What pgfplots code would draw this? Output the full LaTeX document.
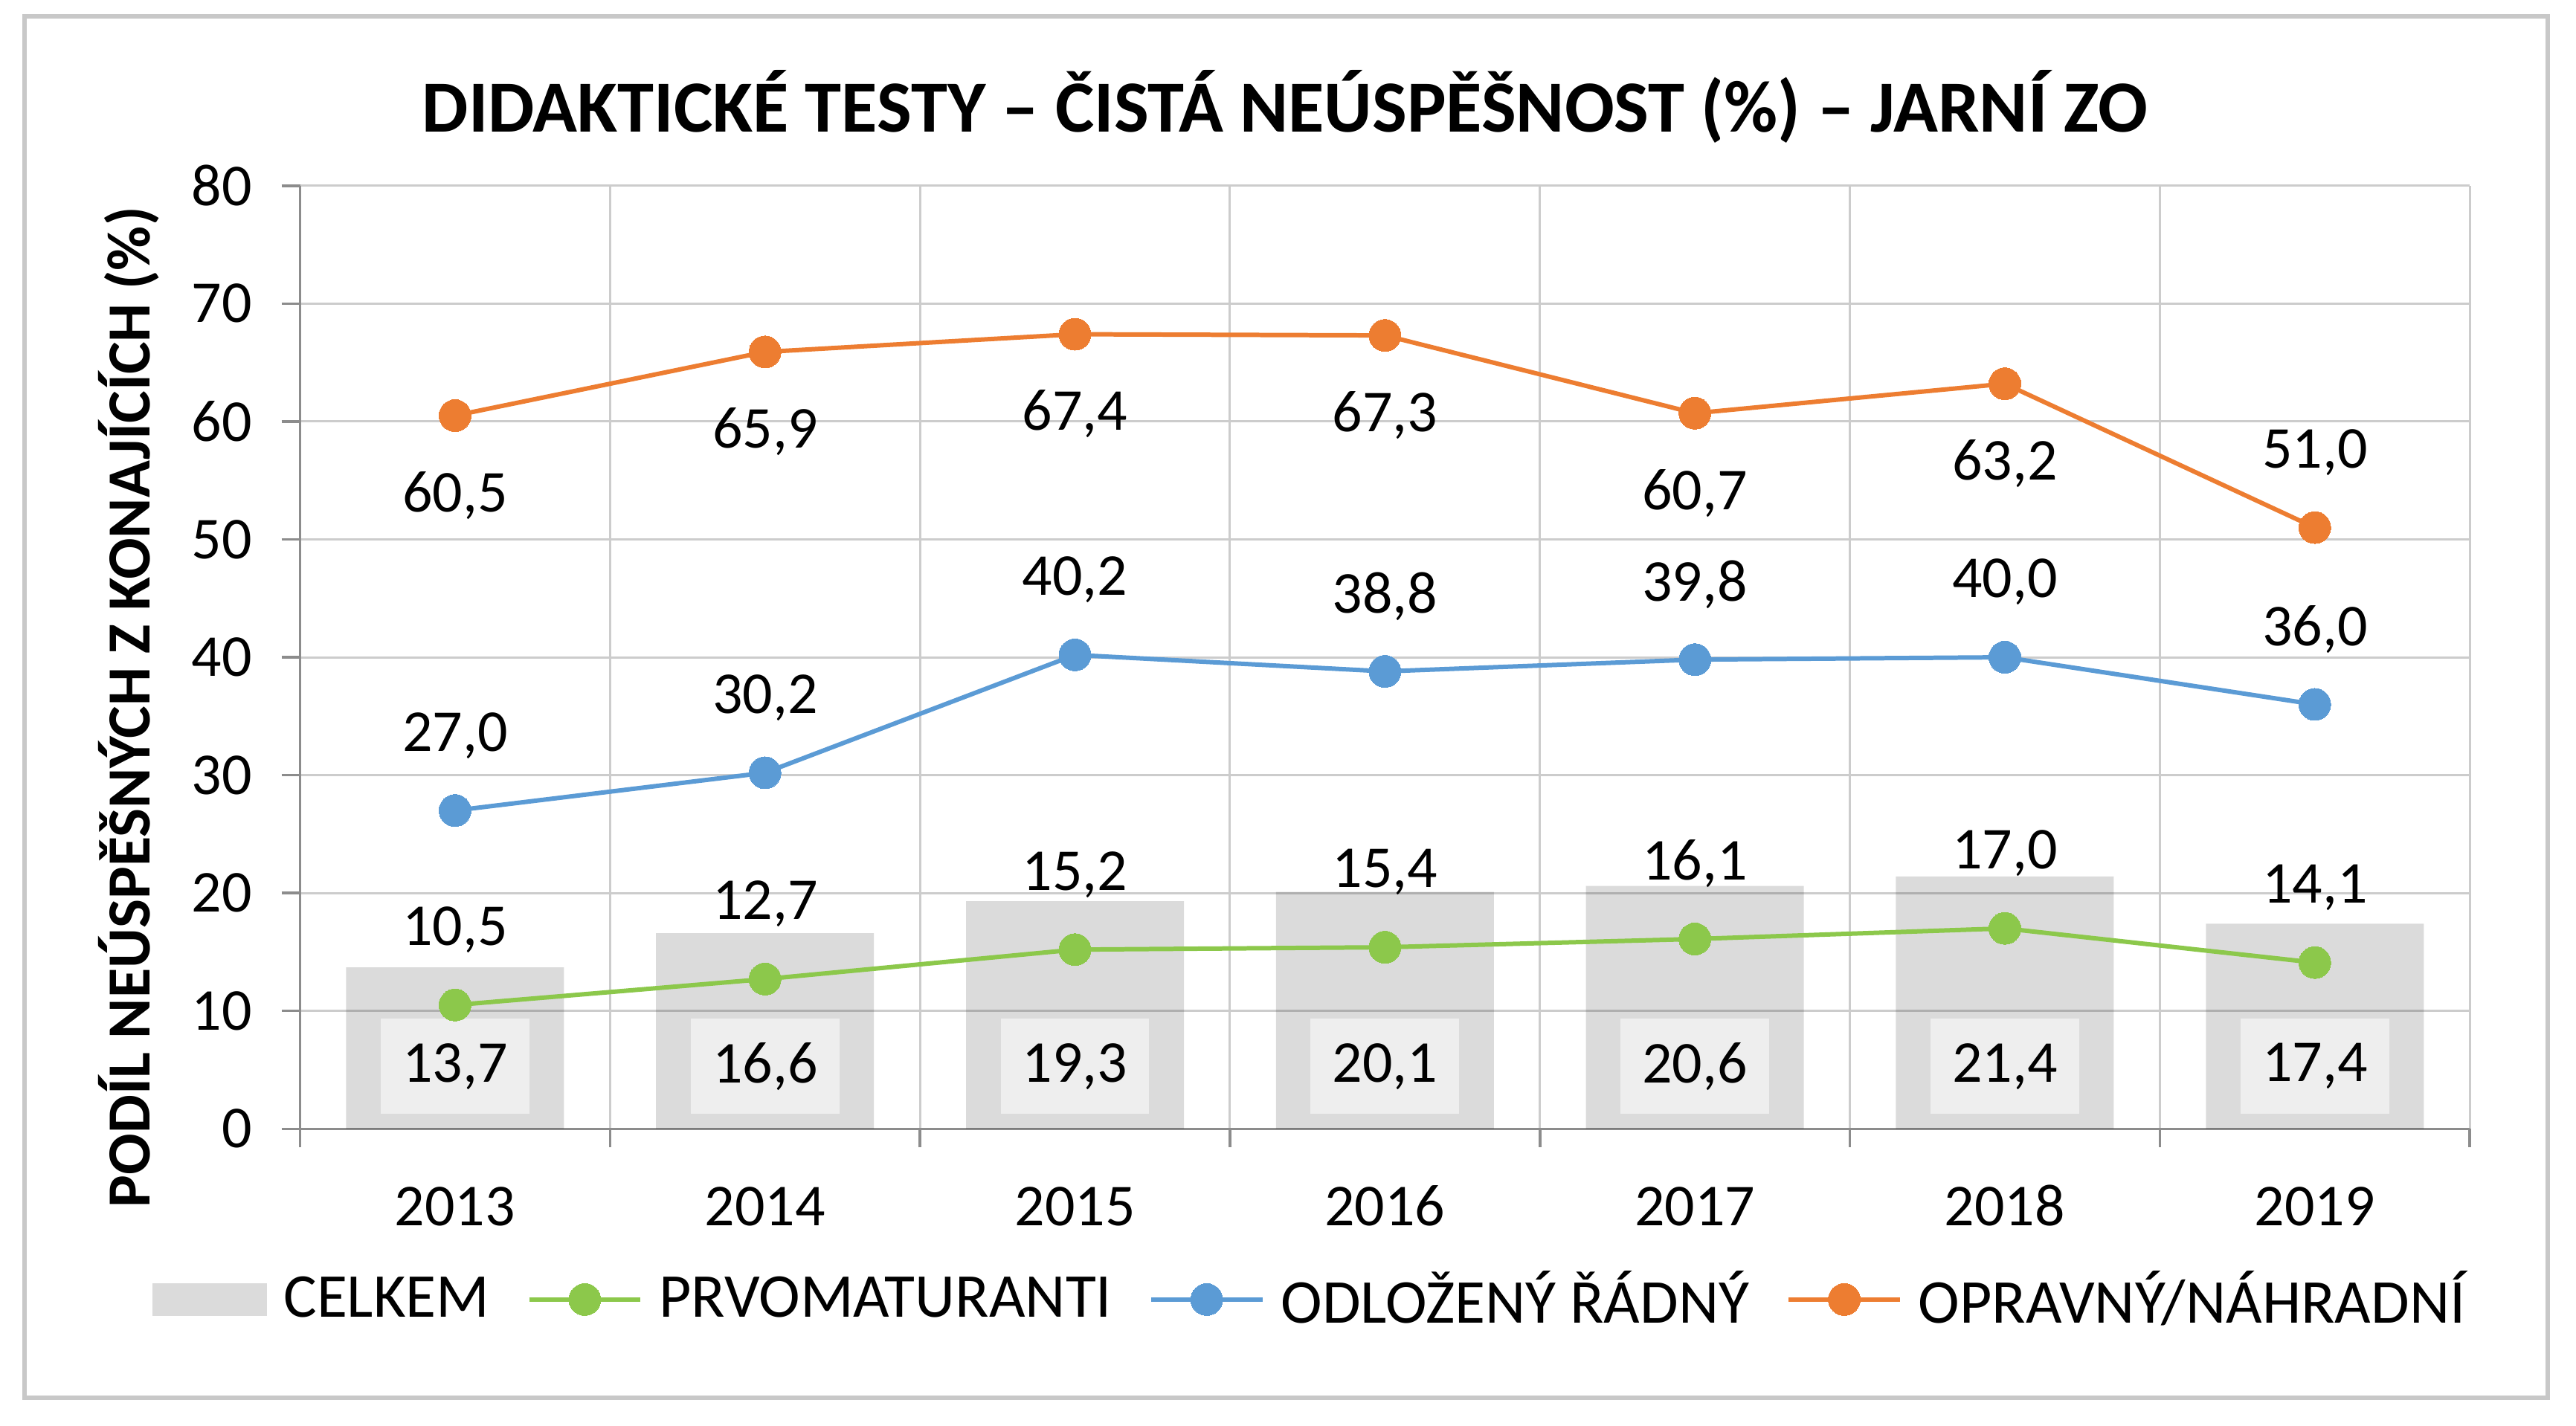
\documentclass[border=0pt]{standalone}
\usepackage{fontspec}
\setmainfont{Carlito}
\usepackage{pgfplots}
\usepackage{pgfplotstable}
\pgfplotsset{compat=1.18}
\definecolor{cGreen}{HTML}{8CC84B}
\definecolor{cBlue}{HTML}{5B9BD5}
\definecolor{cOrange}{HTML}{ED7D31}
\definecolor{cGrid}{HTML}{CCCCCC}
\definecolor{cAxis}{HTML}{8C8C8C}
\definecolor{cLabBox}{HTML}{EEEEEE}
\definecolor{cFrame}{HTML}{C8C8C8}

\pgfplotstableread{
x year celkem prvo odlo oprav so
0 2013 13.7 10.5 27.0 60.5 -21.5
1 2014 16.6 12.7 30.2 65.9 -21.5
2 2015 19.3 15.2 40.2 67.4 -21.5
3 2016 20.1 15.4 38.8 67.3 -21.5
4 2017 20.6 16.1 39.8 60.7 -21.5
5 2018 21.4 17.0 40.0 63.2 -21.5
6 2019 17.4 14.1 36.0 51.0 20.2
}\datatable

\newcommand{\fs}{\fontsize{16}{19}\selectfont}
\pgfplotsset{
  lbl/.style={nodes near coords={\pgfmathprintnumber[fixed,fixed zerofill,precision=1,use comma]{\pgfplotspointmeta}}},
  ser/.style={color=#1, line width=1.2pt, mark=*, mark size=4.3pt,
    mark options={fill=#1, draw=#1, line width=0pt}, lbl},
}

\begin{document}
\begin{tikzpicture}
\useasboundingbox (-80.8pt,-80pt) rectangle (612.8pt,304pt);
\fill[white] (-80.8pt,-80pt) rectangle (612.8pt,304pt);
\draw[cFrame, line width=1.2pt] (-74.2pt,-72.4pt) rectangle (605.2pt,299.6pt);
\node[anchor=base, inner sep=0pt, font=\fontsize{19.8}{24}\selectfont\bfseries] at (265.2pt,268.4pt)
  {DIDAKTICKÉ TESTY – ČISTÁ NEÚSPĚŠNOST (\%) – JARNÍ ZO};
\begin{axis}[
  scale only axis, width=584.2pt, height=254pt,
  xmin=-0.5, xmax=6.5, ymin=0, ymax=80,
  ytick={0,10,...,80},
  xtick={-0.5,0.5,...,6.5}, xticklabels={},
  extra x ticks={0,1,2,3,4,5,6},
  extra x tick labels={2013,2014,2015,2016,2017,2018,2019},
  extra x tick style={grid=none, major tick length=0pt},
  xmajorgrids, ymajorgrids,
  major grid style={cGrid, line width=0.6pt},
  tick align=outside, major tick length=5pt,
  tick style={cAxis, line width=0.7pt},
  axis x line*=bottom, axis y line*=left,
  axis line style={cAxis, line width=0.7pt, -},
  /pgf/number format/assume math mode=true,
  tick label style={font=\fs},
  xticklabel style={anchor=base, yshift=-26pt},
  yticklabel style={anchor=east, xshift=-4.4pt},
  clip=false,
  ylabel={PODÍL NEÚSPĚŠNÝCH Z KONAJÍCÍCH (\%)},
  ylabel style={at={(axis description cs:-0.0692,0.447)}, anchor=base, font=\fontsize{16.5}{20}\selectfont\bfseries},
  legend columns=-1,
  legend style={at={(axis description cs:0.4666,-0.181)}, anchor=center, draw=none, fill=none, font=\fontsize{16.8}{20}\selectfont,
    /tikz/every odd column/.append style={column sep=2.4pt},
    /tikz/every even column/.append style={column sep=8pt}},
  legend image code/.code={\draw[mark repeat=2,mark phase=2] plot coordinates {(0pt,0pt) (15pt,0pt) (30pt,0pt)};},
]
\addplot[ybar, bar width=0.703, draw=none, fill=black, fill opacity=0.14,
  legend image code/.code={\fill[black, fill opacity=0.14] (0pt,-4.45pt) rectangle (31pt,4.45pt);},
  visualization depends on={\thisrow{celkem} \as \rawy},
  lbl,
  every node near coord/.append style={anchor=center, yshift={(5.3-\rawy)*3.175pt}, fill=cLabBox, fill opacity=1, text opacity=1, text=black, minimum width=40pt, minimum height=25.6pt, inner sep=0pt, font=\fs}
] table[x=x, y=celkem] {\datatable};
\addlegendentry{CELKEM}
\addplot[ser=cGreen,
  every node near coord/.append style={anchor=center, yshift=20.2pt, text=black, font=\fs}
] table[x=x, y=prvo] {\datatable};
\addlegendentry{PRVOMATURANTI}
\addplot[ser=cBlue,
  every node near coord/.append style={anchor=center, yshift=20.2pt, text=black, font=\fs}
] table[x=x, y=odlo] {\datatable};
\addlegendentry{ODLOŽENÝ ŘÁDNÝ}
\addplot[ser=cOrange,
  visualization depends on={\thisrow{so} \as \lshift},
  every node near coord/.append style={anchor=center, yshift=\lshift pt, text=black, font=\fs}
] table[x=x, y=oprav] {\datatable};
\addlegendentry{OPRAVNÝ/NÁHRADNÍ}
\end{axis}
\end{tikzpicture}
\end{document}
